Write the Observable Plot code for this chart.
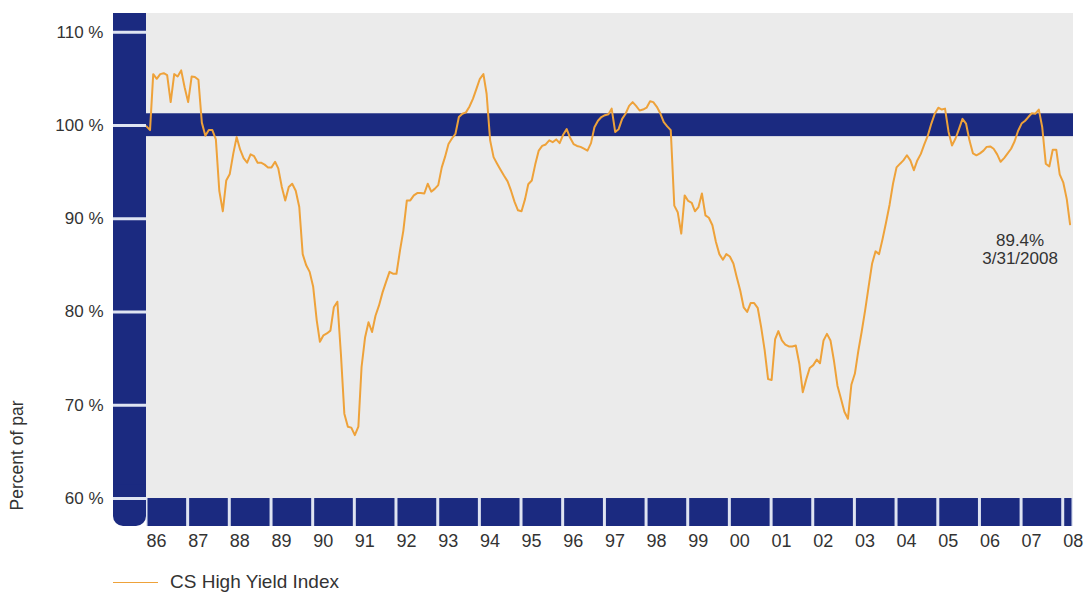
<!DOCTYPE html>
<html>
<head>
<meta charset="utf-8">
<script src="https://cdn.jsdelivr.net/npm/d3@7"></script>
<script src="https://cdn.jsdelivr.net/npm/@observablehq/plot@0.6"></script>
<style>
  html, body { margin: 0; padding: 0; background: #fff; }
  body { width: 1085px; height: 594px; overflow: hidden; font-family: "Liberation Sans", Arial, sans-serif; }
  #legend { position: relative; height: 32px; }
  #legend .swatch { position: absolute; left: 113px; top: 20px; width: 45px; height: 0; border-top: 1.5px solid #eea23a; }
  #legend .label { position: absolute; left: 170px; top: 9px; font-size: 19px; color: #333; line-height: 22px; }
</style>
</head>
<body>
<div id="chart"></div>
<div id="legend"><span class="swatch"></span><span class="label">CS High Yield Index</span></div>
<script>
// Monthly values (% of par), January 1986 through March 2008
const startYear = 1986;
const seriesName = "CS High Yield Index";
const values = [
  99.9, 99.5, 105.5, 105.0, 105.5, 105.6, 105.4, 102.5, 105.5, 105.25, 105.9, 104.1, // 1986
  102.5, 105.25, 105.2, 104.9, 100.3, 98.9, 99.5, 99.5, 98.5, 93.0, 90.8, 94.1,      // 1987
  94.8, 97.0, 98.75, 97.4, 96.5, 96.0, 96.9, 96.7, 96.0, 96.0, 95.8, 95.5,           // 1988
  95.5, 96.1, 95.4, 93.4, 91.95, 93.4, 93.75, 93.0, 91.25, 86.2, 85.0, 84.3,         // 1989
  82.7, 79.1, 76.8, 77.5, 77.7, 78.0, 80.5, 81.1, 75.5, 69.1, 67.7, 67.6,            // 1990
  66.8, 67.7, 74.1, 77.3, 78.9, 77.85, 79.6, 80.7, 82.1, 83.2, 84.3, 84.1,           // 1991
  84.1, 86.6, 88.7, 91.96, 91.96, 92.5, 92.75, 92.75, 92.7, 93.75, 92.9, 93.2,       // 1992
  93.6, 95.5, 96.6, 98.0, 98.6, 99.1, 100.9, 101.25, 101.4, 102.0, 102.85, 103.9,    // 1993
  105.0, 105.5, 103.4, 98.4, 96.6, 95.9, 95.25, 94.6, 94.0, 93.0, 91.8, 90.9,        // 1994
  90.8, 92.1, 93.7, 94.1, 95.8, 97.3, 97.8, 97.96, 98.4, 98.2, 98.5, 98.1,           // 1995
  99.0, 99.6, 98.7, 98.0, 97.8, 97.7, 97.5, 97.3, 98.1, 99.8, 100.5, 100.9,          // 1996
  101.1, 101.2, 101.8, 99.3, 99.6, 100.7, 101.25, 102.1, 102.5, 102.1, 101.6, 101.7, // 1997
  101.9, 102.6, 102.5, 102.0, 101.3, 100.35, 99.9, 99.5, 91.4, 90.7, 88.4, 92.5,     // 1998
  91.9, 91.7, 90.8, 91.25, 92.7, 90.35, 90.1, 89.3, 87.5, 86.2, 85.6, 86.2,          // 1999
  85.95, 85.2, 83.75, 82.3, 80.5, 80.0, 80.95, 80.95, 80.45, 78.4, 75.9, 72.8,       // 2000
  72.7, 77.1, 77.95, 76.95, 76.5, 76.3, 76.3, 76.4, 74.45, 71.4, 72.8, 74.0,         // 2001
  74.3, 74.9, 74.5, 76.95, 77.65, 76.95, 74.8, 72.1, 70.7, 69.3, 68.55, 72.2,        // 2002
  73.4, 75.9, 77.85, 80.2, 82.7, 85.2, 86.5, 86.2, 87.85, 89.6, 91.5, 93.75,         // 2003
  95.5, 95.9, 96.25, 96.8, 96.25, 95.2, 96.25, 96.95, 98.0, 98.9, 100.2, 101.25,     // 2004
  101.9, 101.7, 101.8, 99.3, 97.85, 98.6, 99.6, 100.7, 100.2, 98.4, 97.0, 96.8,      // 2005
  97.0, 97.3, 97.7, 97.75, 97.5, 96.9, 96.1, 96.5, 97.0, 97.5, 98.3, 99.4,           // 2006
  100.2, 100.5, 100.9, 101.3, 101.25, 101.7, 99.8, 95.9, 95.6, 97.4, 97.4, 94.75,    // 2007
  93.9, 92.1, 89.4                                                                   // 2008
];
const yTicks = [60, 70, 80, 90, 100, 110];
const yearTicks = d3.range(1986, 2009);
const parBand = [98.8, 101.25];     // highlighted band around par
const baseBand = [57, 60];          // lower band below the 60 % gridline
const yDomain = [57, 112];
const xDomain = [new Date(Date.UTC(1986, 0, 1)), new Date(Date.UTC(2008, 2, 31))];
const noteValue = "89.4%";
const noteDate = "3/31/2008";
const yLabel = "Percent of par";

const navy = "#1b2a80";
const orange = "#eea23a";
const gap = "#dfe4f2";
const ink = "#333333";

const data = values.map((v, i) => ({date: new Date(Date.UTC(startYear, i, 1)), value: v}));
const last = data[data.length - 1];
const years = yearTicks.map((y) => ({
  start: new Date(Date.UTC(y, 0, 1)),
  end: y === 2008 ? xDomain[1] : new Date(Date.UTC(y + 1, 0, 1))
}));
const whole = [{x1: xDomain[0], x2: xDomain[1]}];

const chart = Plot.plot({
  width: 1085,
  height: 562,
  marginTop: 13,
  marginBottom: 36,
  marginLeft: 146,
  marginRight: 12,
  style: {fontFamily: "'Liberation Sans', Arial, sans-serif", background: "white"},
  x: {type: "utc", domain: xDomain, label: null},
  y: {domain: yDomain, label: null},
  marks: [
    // plot background
    Plot.rect(whole, {x1: "x1", x2: "x2", y1: baseBand[1], y2: yDomain[1], fill: "#ebebeb"}),
    // light strip behind the bottom band (shows as gaps)
    Plot.rect(whole, {x1: "x1", x2: "x2", y1: baseBand[0], y2: baseBand[1], fill: gap}),
    // bottom band blocks, one per year
    Plot.rect(years, {x1: "start", x2: "end", y1: baseBand[0], y2: baseBand[1], fill: navy, insetLeft: 1.5, insetRight: 1.5}),
    // left vertical bar (rounded bottom-left corner)
    Plot.rect([{x: xDomain[0]}], {x1: "x", x2: "x", y1: yDomain[0], y2: yDomain[1], insetLeft: -33, fill: navy, rx: 10}),
    Plot.rect([{x: xDomain[0]}], {x1: "x", x2: "x", y1: baseBand[1] + 1.5, y2: yDomain[1], insetLeft: -33, fill: navy}),
    // band around par
    Plot.rect(whole, {x1: "x1", x2: "x2", y1: parBand[0], y2: parBand[1], fill: navy}),
    // series
    Plot.line(data, {x: "date", y: "value", stroke: orange, strokeWidth: 2, strokeLinejoin: "round"}),
    // y axis: light notches across the left bar + labels
    Plot.axisY({ticks: yTicks, tickSize: 33, tickPadding: 10, stroke: gap, strokeWidth: 3, fill: ink,
      fontSize: 17, tickFormat: (d) => `${d} %`, label: null}),
    // x axis: two-digit years at the start of each year
    Plot.axisX({ticks: years.map((d) => d.start), tickFormat: d3.utcFormat("%y"), tickSize: 0, tickPadding: 8,
      textAnchor: "start", fill: ink, fontSize: 18, label: null}),
    // y axis title
    Plot.text([yLabel], {frameAnchor: "bottom-left", rotate: -90, textAnchor: "middle", dx: -123.5, dy: -71,
      fontSize: 17.5, fill: ink}),
    // end annotation
    Plot.text([last], {x: "date", y: "value", text: () => `${noteValue}\n${noteDate}`, dx: -50, dy: 9,
      lineAnchor: "top", lineHeight: 1.06, textAnchor: "middle", fontSize: 17, fill: ink})
  ]
});
document.getElementById("chart").appendChild(chart);
</script>
</body>
</html>
